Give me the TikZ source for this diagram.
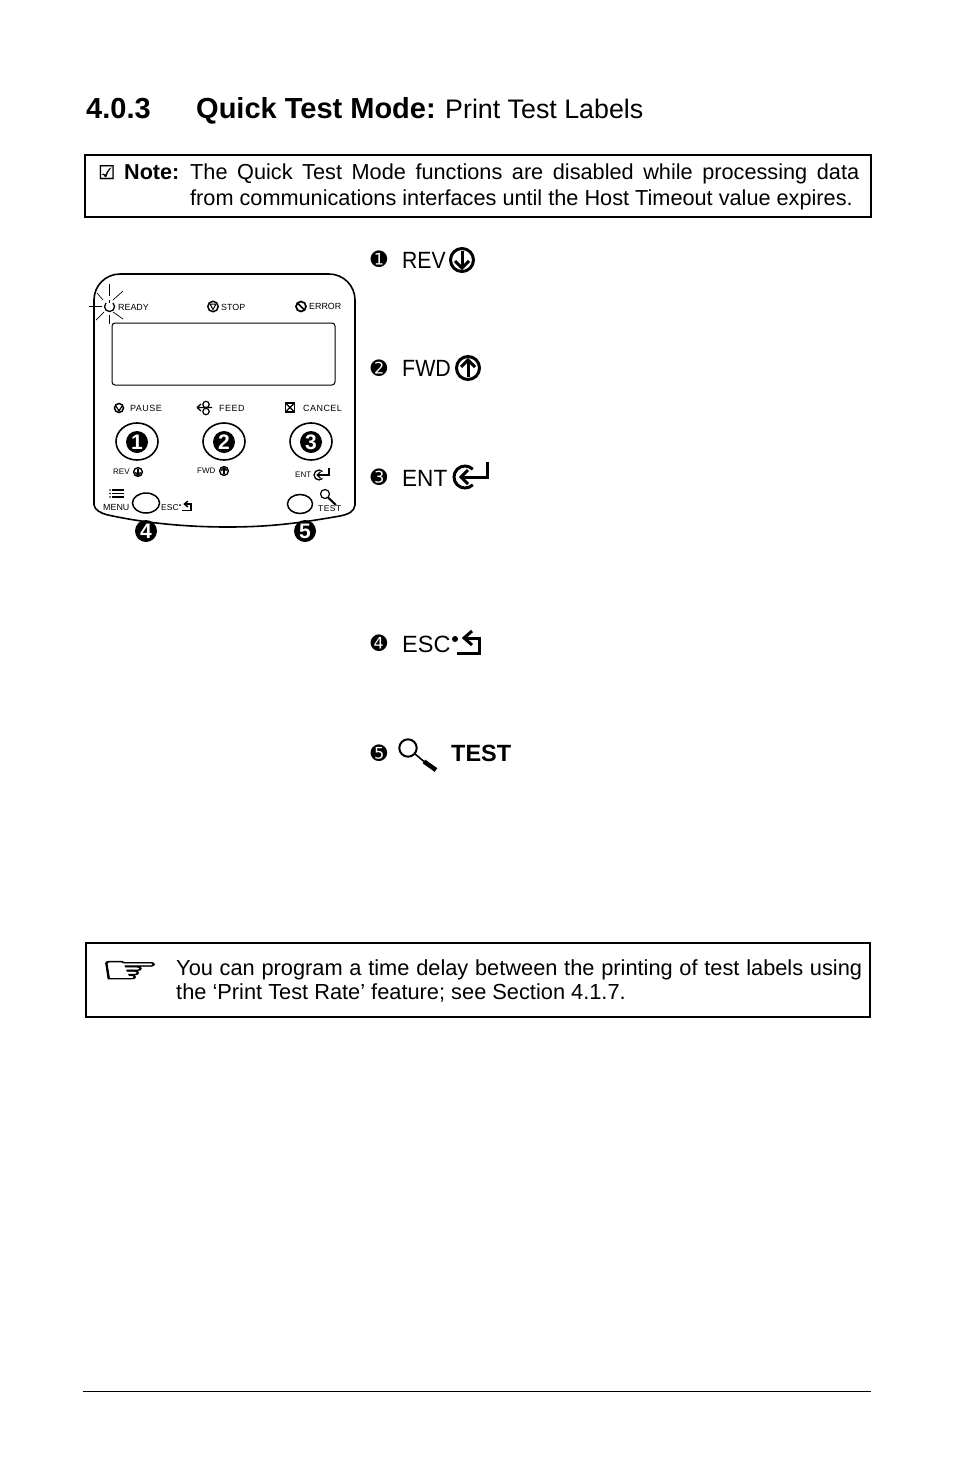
\documentclass[tikz,border=0pt]{standalone}
\usepackage{fontspec}
\setmainfont{Liberation Sans}
\newfontfamily\dingfont{DejaVu Sans}
\newfontfamily\heavyding[FakeBold=1.5]{DejaVu Sans}
\newlength{\iconwd}
\tikzset{
    iconwidth/.code={\setlength{\iconwd}{#1}},
    bodytext/.style={inner sep=0pt,font=\fontsize{21.7}{26}\selectfont},
    keytext/.style={inner sep=0pt,anchor=base west,font=\fontsize{23.5}{26}\selectfont},
    tinytext/.style={inner sep=0pt,font=\fontsize{8.9}{10}\selectfont},
    spacedtext/.style={inner sep=0pt,font=\fontsize{9}{10}\selectfont\addfontfeature{LetterSpace=5}},
    itemmark/.style={inner sep=0pt,font=\fontsize{20}{20}\dingfont\selectfont},
    framebox/.style={draw=black,line width=1.5pt},
    keyhole/.style={draw=black,line width=1.5pt},
    keyball/.style={circle,fill=black,text=white,inner sep=0pt,minimum size=22pt,font=\fontsize{21}{21}\bfseries\selectfont},
    revicon/.pic={
        \draw[line width=\iconwd] (0,0) circle (11.5);
        \draw[line width=\iconwd] (0,-9) -- (0,8);
        \draw[line width=\iconwd] (-7,1) -- (0,8) -- (7,1);
    },
    fwdicon/.pic={
        \draw[line width=\iconwd] (0,0) circle (11.5);
        \draw[line width=\iconwd] (0,9) -- (0,-8);
        \draw[line width=\iconwd] (-7,-1) -- (0,-8) -- (7,-1);
    },
    enticon/.pic={
        \draw[line width=\iconwd] (45:11) arc (45:315:11);
        \draw[line width=\iconwd] (22,-15) -- (22,0) -- (-4,0);
        \draw[line width=\iconwd] (3,-7) -- (-4,0) -- (3,7);
    },
    escicon/.pic={
        \draw[line width=\iconwd] (-13,8) -- (9,8) -- (9,-7) -- (-6,-7);
        \draw[line width=\iconwd] (2,-14) -- (-6,-7) -- (2,0);
    },
    lensicon/.pic={
        \draw[line width=2pt] (0,0) circle (8.7);
        \draw[line width=1.6pt] (6.5,5.5) -- (16,13.5);
        \draw[line width=4.5pt] (16,13.5) -- (28,22);
    },
}
\begin{document}
\begin{tikzpicture}[x=1pt,y=-1pt]
    \useasboundingbox (0,0) rectangle (954,1475);
    % heading
    \node[inner sep=0pt,anchor=base west,font=\fontsize{29}{29}\bfseries\selectfont] (secnum) at (86,118) {4.0.3};
    \node[inner sep=0pt,anchor=base west,font=\fontsize{29}{29}\bfseries\selectfont] (sectitle) at (196,118) {Quick Test Mode:};
    \node[inner sep=0pt,anchor=base west,font=\fontsize{26.8}{26.8}\selectfont] (secsub) at (445,118) {Print Test Labels};

    % note box
    \draw[framebox] (85,155) rectangle (871,217);
    \node[inner sep=0pt,font=\fontsize{19}{19}\heavyding\selectfont,anchor=base west] (notecheck) at (98,179) {☑};
    \node[bodytext,anchor=base west,font=\fontsize{21.6}{26}\bfseries\selectfont] (notehead) at (124,179) {Note:};
    \node[bodytext,anchor=north west,text width=669pt,align=justify] (notebody) at (190,164)
        {The Quick Test Mode functions are disabled while processing data\linebreak from communications interfaces until the Host Timeout value expires.};

    % control panel
    \draw[line width=1.6pt] (94,505) -- (94,300) arc (180:270:26) -- (329,274) arc (270:360:26) -- (355,505)
        .. controls (354,511) and (350,514) .. (340,516)
        .. controls (300,523) and (270,527) .. (228,527)
        .. controls (180,527) and (140,522) .. (108,515)
        .. controls (100,513) and (95,510) .. (94,505);
    \draw[line width=1pt,rounded corners=3pt] (112,323) rectangle (335,385);

    % ready lamp
    \draw[line width=1.3pt] (106,303) arc (225:-45:5);
    \draw[line width=1pt] (109,300) -- (109,303);
    \foreach \xa/\ya/\xb/\yb in {109/284/109/296, 89/306/102/306, 109/315/109/324, 123/291/113/300, 97/293/103/300, 96/320/104/312, 113/312/123/319}
        \draw[line width=.7pt] (\xa,\ya) -- (\xb,\yb);

    % panel labels
    \node[tinytext,anchor=west] (ready) at (118,307) {READY};
    \node[tinytext,anchor=west] (stop) at (221,307) {STOP};
    \node[tinytext,anchor=west] (error) at (309,306.5) {ERROR};
    \node[spacedtext,anchor=west] (pause) at (130,408) {PAUSE};
    \node[spacedtext,anchor=west] (feed) at (219,408) {FEED};
    \node[spacedtext,anchor=west] (cancel) at (303,408) {CANCEL};
    \draw[line width=1.5pt] (213,306.5) circle (5.2);
    \draw[line width=1pt] (210,304) -- (216,304) -- (213,309.5) -- cycle;
    \draw[line width=1.7pt] (301,306.5) circle (5);
    \draw[line width=1.7pt] (297.5,303) -- (304.5,310);
    \draw[line width=1.5pt] (119,408) circle (4.5);
    \draw[line width=1.2pt] (116,406) -- (119,411) -- (122,406);
    \draw[line width=1.2pt] (197,407.5) -- (201,404) (197,407.5) -- (201,411) (197,407.5) -- (212,407.5);
    \draw[line width=1.2pt] (206,404.5) circle (3.2) (206,411.5) circle (3.2);
    \draw[line width=1.3pt] (285.5,403) rectangle (294.5,412);
    \draw[line width=1.3pt] (285.5,403) -- (294.5,412) (285.5,412) -- (294.5,403);

    % keys
    \foreach \keyname/\keyx/\keynum in {one/137/1, two/224/2, three/311/3} {
        \draw[line width=1.6pt] (\keyx,441.5) ellipse (21 and 18.5);
        \node[keyball] (key\keyname) at (\keyx,442) {\keynum};
    }
    \node[keyball] (keyfour) at (146,531) {4};
    \node[keyball] (keyfive) at (305,531) {5};
    \draw[keyhole] (146,503) ellipse (13.5 and 10);
    \draw[keyhole] (300,504) ellipse (12.5 and 9.5);

    \node[tinytext,anchor=west,font=\fontsize{8}{8}\selectfont] (revsmall) at (113,472) {REV};
    \pic[scale=.38,iconwidth=1.4pt] at (138,472) {revicon};
    \node[tinytext,anchor=west,font=\fontsize{8}{8}\selectfont] (fwdsmall) at (197,471) {FWD};
    \pic[scale=.38,iconwidth=1.4pt] at (224,471) {fwdicon};
    \node[tinytext,anchor=west,font=\fontsize{8}{8}\selectfont] (entsmall) at (295,475) {ENT};
    \pic[scale=.45,iconwidth=1.3pt] at (319,475) {enticon};
    \foreach \liney in {490,493.5,497}
        \draw[line width=1.3pt] (112,\liney) -- (124,\liney);
    \foreach \liney in {490,493.5,497}
        \fill (110,\liney) circle (.8);
    \node[tinytext,anchor=west] (menu) at (103,507.5) {MENU};
    \node[tinytext,anchor=west,font=\fontsize{8.5}{9}\selectfont] (escsmall) at (161,507.5) {ESC};
    \fill (180,505) circle (1);
    \pic[scale=.42,iconwidth=1.5pt] at (187,507) {escicon};
    \draw[line width=1.2pt] (325,494) circle (4.5);
    \draw[line width=2pt] (328,497.5) -- (336,505);
    \node[spacedtext,anchor=west,font=\fontsize{8.5}{10}\selectfont\addfontfeature{LetterSpace=5}] (testsmall) at (318,509) {TEST};

    % key legend
    \node[itemmark] (markone) at (379,259) {➊};
    \node[keytext,xscale=.9] (revkey) at (402,268) {REV};
    \pic[iconwidth=3pt] at (462,260) {revicon};
    \node[itemmark] (marktwo) at (379,368) {➋};
    \node[keytext,xscale=.91] (fwdkey) at (402,376) {FWD};
    \pic[iconwidth=3pt] at (468,368) {fwdicon};
    \node[itemmark] (markthree) at (379,477) {➌};
    \node[keytext,xscale=.96] (entkey) at (402,486) {ENT};
    \pic[iconwidth=3pt] at (465,477) {enticon};
    \node[itemmark] (markfour) at (379,643) {➍};
    \node[keytext] (esckey) at (402,652) {ESC};
    \fill (455,639) circle (3);
    \pic[iconwidth=3pt] at (470,645) {escicon};
    \node[itemmark] (markfive) at (379,753) {➎};
    \pic at (408,748) {lensicon};
    \node[keytext,font=\fontsize{23.5}{26}\bfseries\selectfont] (testkey) at (451,761) {TEST};

    % hint box
    \draw[framebox] (86,943) rectangle (870,1017);
    \node[inner sep=0pt,xscale=1.4,yscale=.8,font=\fontsize{48}{48}\heavyding\selectfont] (hand) at (130,972) {☞};
    \node[bodytext,anchor=north west,text width=686pt,align=justify,font=\fontsize{21.8}{24}\selectfont] (hinttext) at (176,959)
        {You can program a time delay between the printing of test labels using the ‘Print Test Rate’ feature; see Section 4.1.7.};

    % foot rule
    \draw[line width=1pt] (83,1391) -- (871,1391);
\end{tikzpicture}
\end{document}
